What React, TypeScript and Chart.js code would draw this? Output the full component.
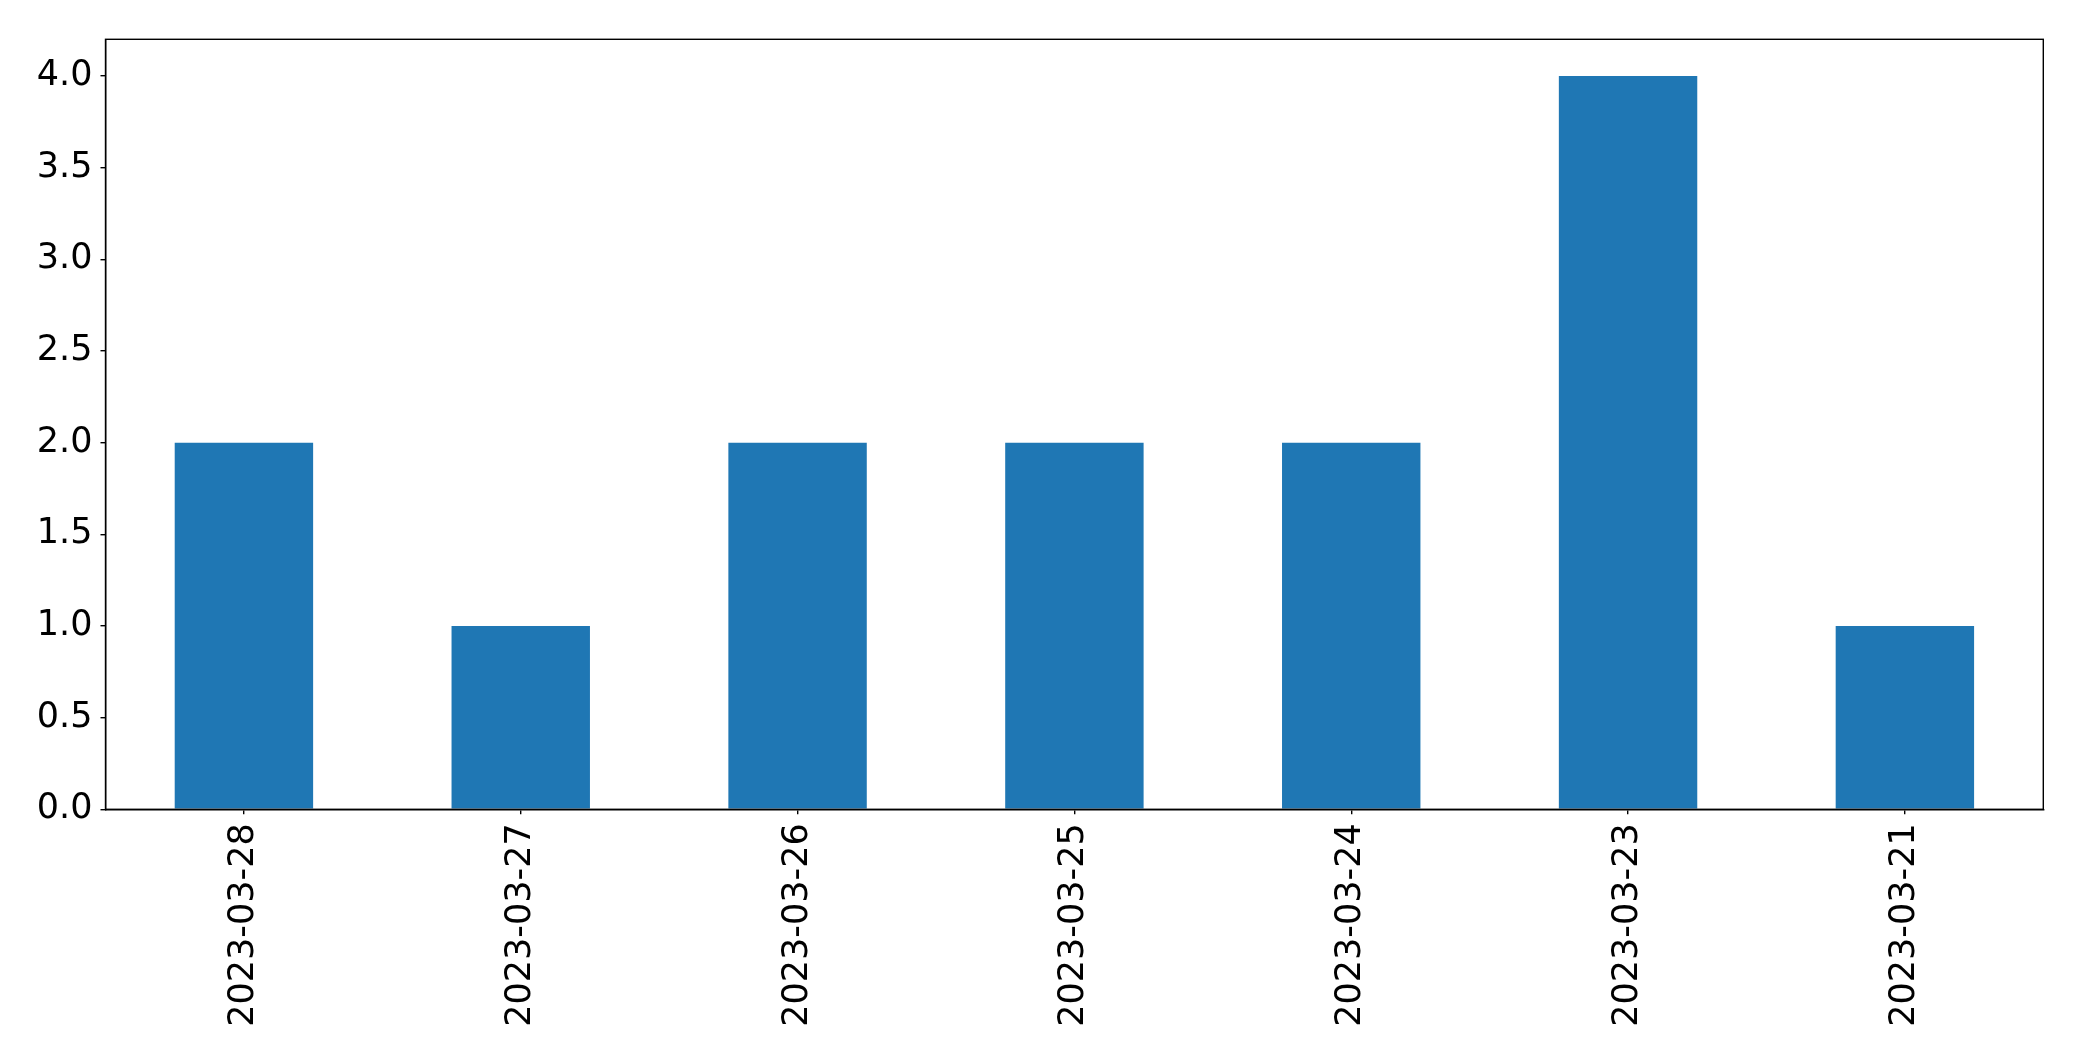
import React, { useEffect, useRef } from "react";
import { Chart, registerables } from "chart.js";

Chart.register(...registerables);

const categories = ["2023-03-28", "2023-03-27", "2023-03-26", "2023-03-25", "2023-03-24", "2023-03-23", "2023-03-21"];
const values = [2, 1, 2, 2, 2, 4, 1];
const yTicks = [0, 0.5, 1, 1.5, 2, 2.5, 3, 3.5, 4];

const W = 2082;
const H = 1061;
const LEFT = 105.5;
const RIGHT = 2043.3;
const TOP = 39.3;
const BOTTOM = 809.3;

const FONT = { family: "'DejaVu Sans', sans-serif", size: 35 };

const frame = {
  id: "frame",
  afterDraw(chart: any) {
    const { ctx, chartArea } = chart;
    ctx.save();
    ctx.strokeStyle = "#000";
    ctx.lineWidth = 1.4;
    ctx.strokeRect(chartArea.left, chartArea.top, chartArea.right - chartArea.left, chartArea.bottom - chartArea.top);
    ctx.restore();
  },
};

export default function App() {
  const ref = useRef<HTMLCanvasElement>(null);
  useEffect(() => {
    document.body.style.margin = "0";
    const chart = new Chart(ref.current!, {
      type: "bar",
      data: {
        labels: categories,
        datasets: [
          {
            data: values,
            backgroundColor: "#1f77b4",
            categoryPercentage: 1,
            barPercentage: 0.5,
          },
        ],
      },
      options: {
        animation: false,
        responsive: false,
        layout: { padding: { left: 0, top: TOP, right: W - RIGHT, bottom: 0 } },
        plugins: { legend: { display: false }, tooltip: { enabled: false } },
        scales: {
          x: {
            grid: { display: true, offset: false, drawOnChartArea: false, drawTicks: true, tickLength: 5, color: "#000", lineWidth: 1.4 },
            border: { display: true, color: "#000", width: 1.4 },
            ticks: { color: "#000", font: FONT, minRotation: 90, maxRotation: 90, padding: 9, autoSkip: false },
            afterFit(scale: any) {
              scale.height = H - BOTTOM;
            },
          },
          y: {
            min: 0,
            max: 4.2,
            grid: { display: true, drawOnChartArea: false, drawTicks: true, tickLength: 5, color: "#000", lineWidth: 1.4 },
            border: { display: true, color: "#000", width: 1.4 },
            ticks: {
              color: "#000",
              font: FONT,
              padding: 8,
              callback: (v: any) => Number(v).toFixed(1),
            },
            afterBuildTicks(scale: any) {
              scale.ticks = yTicks.map((v) => ({ value: v }));
            },
            afterFit(scale: any) {
              scale.width = LEFT;
            },
          },
        },
      },
      plugins: [frame],
    });
    return () => chart.destroy();
  }, []);
  return (
    <div style={{ position: "absolute", left: 0, top: 0, width: W, height: H, background: "#fff" }}>
      <canvas ref={ref} width={W} height={H} style={{ width: W, height: H, display: "block" }} />
    </div>
  );
}
